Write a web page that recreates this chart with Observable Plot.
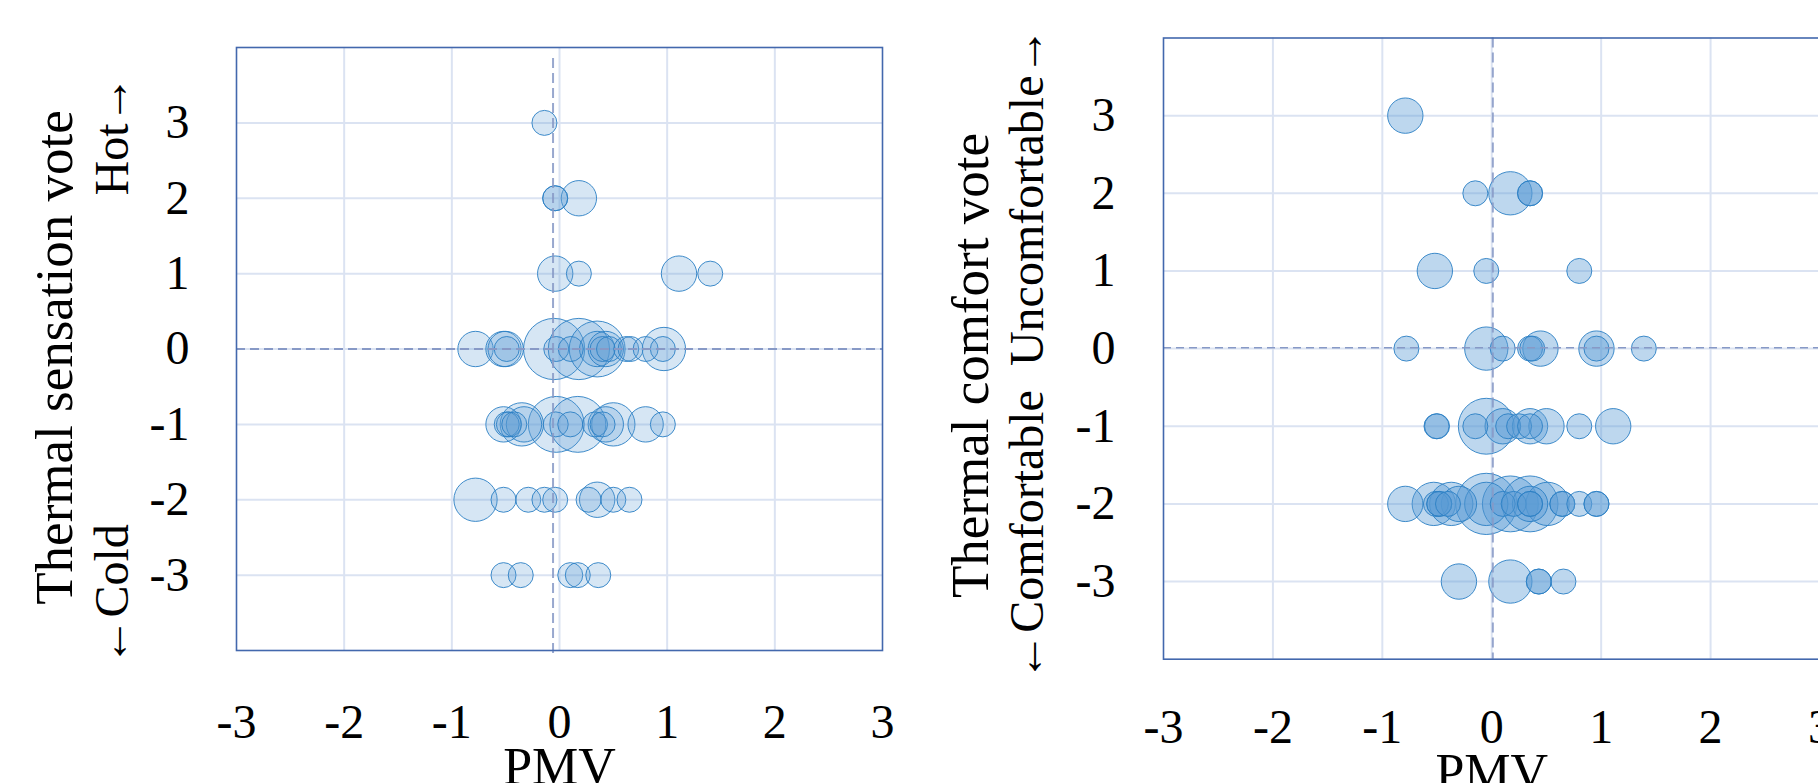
<!DOCTYPE html>
<html>
<head>
<meta charset="utf-8">
<script src="https://cdn.jsdelivr.net/npm/d3@7"></script>
<script src="https://cdn.jsdelivr.net/npm/@observablehq/plot@0.6"></script>
<style>
  html, body { margin: 0; padding: 0; background: #fff; }
  body { width: 1818px; height: 783px; overflow: hidden; position: relative; }
  #left, #right { position: absolute; top: 0; }
  #left { left: 0; width: 900px; }
  #right { left: 900px; width: 930px; }
  svg { max-width: none !important; }
</style>
</head>
<body>
<div id="left"></div>
<div id="right"></div>
<script>
// ---- axes ----
const xTicks = [-3, -2, -1, 0, 1, 2, 3];
const yTicks = [-3, -2, -1, 0, 1, 2, 3];
const xGrid = [-2, -1, 0, 1, 2];
const yGrid = [-3, -2, -1, 0, 1, 2, 3];
const xDomain = [-3, 3];
const yDomain = [-4, 4];

// ---- left panel: thermal sensation vote vs PMV ----
const tsvPMV = [
  -0.14,
  -0.04, -0.04, 0.18,
  -0.04, 0.18, 1.11, 1.40,
  -0.78, -0.52, -0.50, -0.49, -0.05, -0.03, 0.105, 0.18, 0.35, 0.35, 0.40, 0.43, 0.46, 0.62, 0.66, 0.80, 0.97, 0.96,
  -0.52, -0.49, -0.47, -0.42, -0.35, -0.33, -0.03, -0.035, 0.10, 0.17, 0.33, 0.40, 0.43, 0.50, 0.80, 0.96,
  -0.78, -0.52, -0.29, -0.14, -0.04, 0.27, 0.35, 0.50, 0.65,
  -0.52, -0.36, 0.10, 0.17, 0.36
];
const tsvVote = [
  3,
  2, 2, 2,
  1, 1, 1, 1,
  0, 0, 0, 0, 0, 0, 0, 0, 0, 0, 0, 0, 0, 0, 0, 0, 0, 0,
  -1, -1, -1, -1, -1, -1, -1, -1, -1, -1, -1, -1, -1, -1, -1, -1,
  -2, -2, -2, -2, -2, -2, -2, -2, -2,
  -3, -3, -3, -3, -3
];
const tsvCount = [
  1,
  1, 1, 2,
  2, 1, 2, 1,
  2, 2, 2, 1, 6, 1, 1, 6, 5, 2, 1, 2, 1, 1, 1, 1, 3, 1,
  2, 1, 1, 1, 3, 2, 5, 1, 1, 5, 1, 1, 2, 3, 2, 1,
  3, 1, 1, 1, 1, 1, 2, 1, 1,
  1, 1, 1, 1, 1
];
const tsvRef = [{pmv: -0.06, lo: -4.04, hi: 3.92}];

// ---- right panel: thermal comfort vote vs PMV ----
const tcvPMV = [
  -0.79,
  -0.15, 0.17, 0.35, 0.35,
  -0.52, -0.05, 0.80,
  -0.78, -0.05, 0.10, 0.35, 0.37, 0.445, 0.957, 0.957, 1.39,
  -0.505, -0.50, -0.15, -0.05, 0.10, 0.15, 0.25, 0.35, 0.35, 0.50, 0.80, 1.11,
  -0.79, -0.53, -0.51, -0.48, -0.48, -0.40, -0.37, -0.30, -0.05, -0.05, 0.10, 0.17, 0.20, 0.35, 0.35, 0.35, 0.35, 0.51, 0.645, 0.645, 0.80, 0.957, 0.957,
  -0.30, 0.17, 0.43, 0.43, 0.655
];
const tcvVote = [
  3,
  2, 2, 2, 2,
  1, 1, 1,
  0, 0, 0, 0, 0, 0, 0, 0, 0,
  -1, -1, -1, -1, -1, -1, -1, -1, -1, -1, -1, -1,
  -2, -2, -2, -2, -2, -2, -2, -2, -2, -2, -2, -2, -2, -2, -2, -2, -2, -2, -2, -2, -2, -2, -2,
  -3, -3, -3, -3, -3
];
const tcvCount = [
  2,
  1, 3, 1, 1,
  2, 1, 1,
  1, 3, 1, 1, 1, 2, 2, 1, 1,
  1, 1, 1, 5, 2, 1, 1, 2, 1, 2, 1, 2,
  2, 3, 1, 1, 1, 1, 3, 2, 6, 3, 1, 5, 1, 5, 2, 1, 1, 3, 1, 1, 1, 1, 1,
  2, 3, 1, 1, 1
];
const tcvRef = [{pmv: 0.01, vote: 0.01}];

// ---- styling ----
const serif = "'Liberation Serif', 'Times New Roman', Times, 'DejaVu Serif', serif";
const gridColor = "#dbe3f2";
const frameColor = "#4368ad";
const dashColor = "#8799c6";
const bubbleFill = "#5b9bd5";
const bubbleStroke = "#2b7fc4";
const fmt = d => String(d);

function rows(px, vy, n) {
  return px.map((p, i) => ({pmv: p, vote: vy[i], n: n[i]}));
}

function panel(cfg) {
  return Plot.plot({
    width: cfg.width,
    height: 783,
    marginLeft: cfg.ml,
    marginRight: cfg.mr,
    marginTop: cfg.mt,
    marginBottom: cfg.mb,
    style: {fontFamily: serif, color: "#000", background: "transparent", overflow: "visible", maxWidth: "none"},
    x: {domain: xDomain, axis: null},
    y: {domain: yDomain, axis: null},
    r: {type: "sqrt", domain: [0, 1], range: [0, 12.5]},
    marks: [
      Plot.gridX(xGrid, {stroke: gridColor, strokeOpacity: 1, strokeWidth: 2}),
      Plot.gridY(yGrid, {stroke: gridColor, strokeOpacity: 1, strokeWidth: 2}),
      Plot.dot(cfg.data, {x: "pmv", y: "vote", r: "n", fill: bubbleFill, fillOpacity: cfg.alpha,
        stroke: bubbleStroke, strokeOpacity: 0.9, strokeWidth: 1}),
      ...cfg.refs,
      Plot.frame({stroke: frameColor, strokeWidth: 1.6}),
      Plot.axisX(xTicks, {anchor: "bottom", label: null, tickSize: 0, tickPadding: cfg.xpad, fontSize: 48, tickFormat: fmt}),
      Plot.axisY(yTicks, {anchor: "left", label: null, tickSize: 0, tickPadding: cfg.ypad, fontSize: 48, tickFormat: fmt}),
      Plot.text(["PMV"], {text: d => d, frameAnchor: "bottom", dy: cfg.pmvDy, lineAnchor: "bottom", fontSize: 52}),
      ...cfg.titles
    ]
  });
}

const left = panel({
  width: 900, ml: 236, mr: 18, mt: 47, mb: 133,
  data: rows(tsvPMV, tsvVote, tsvCount), alpha: 0.25,
  xpad: 53, ypad: 47, pmvDy: 133,
  refs: [
    Plot.ruleY([0], {stroke: dashColor, strokeWidth: 2, strokeDasharray: "9,5"}),
    Plot.ruleX(tsvRef, {x: "pmv", y1: "lo", y2: "hi", stroke: dashColor, strokeOpacity: 0.85, strokeWidth: 2, strokeDasharray: "10,5"})
  ],
  titles: [
    Plot.text(["Thermal sensation vote"], {text: d => d, frameAnchor: "left", dx: -181, dy: 8.5, rotate: -90, fontSize: 53, textAnchor: "middle", lineAnchor: "middle"}),
    Plot.text(["Hot\u2192"], {text: d => d, frameAnchor: "top-left", dx: -124, dy: 28, rotate: -90, fontSize: 48, textAnchor: "end", lineAnchor: "middle"}),
    Plot.text(["\u2190Cold"], {text: d => d, frameAnchor: "bottom-left", dx: -124, dy: 15, rotate: -90, fontSize: 48, textAnchor: "start", lineAnchor: "middle"})
  ]
});

const right = panel({
  width: 930, ml: 263, mr: 10.5, mt: 37.5, mb: 124.3,
  data: rows(tcvPMV, tcvVote, tcvCount), alpha: 0.4,
  xpad: 50, ypad: 48, pmvDy: 131,
  refs: [
    Plot.ruleY(tcvRef, {y: "vote", stroke: dashColor, strokeWidth: 1.6, strokeDasharray: "8,5"}),
    Plot.ruleX(tcvRef, {x: "pmv", stroke: dashColor, strokeOpacity: 0.85, strokeWidth: 2, strokeDasharray: "10,5"})
  ],
  titles: [
    Plot.text(["Thermal comfort vote"], {text: d => d, frameAnchor: "left", dx: -192, dy: 17, rotate: -90, fontSize: 53, textAnchor: "middle", lineAnchor: "middle"}),
    Plot.text(["\u2190Comfortable  Uncomfortable\u2192"], {text: d => d, frameAnchor: "left", dx: -135.5, dy: 5.5, rotate: -90, fontSize: 48, textAnchor: "middle", lineAnchor: "middle"})
  ]
});

document.getElementById("left").appendChild(left);
document.getElementById("right").appendChild(right);
</script>
</body>
</html>
